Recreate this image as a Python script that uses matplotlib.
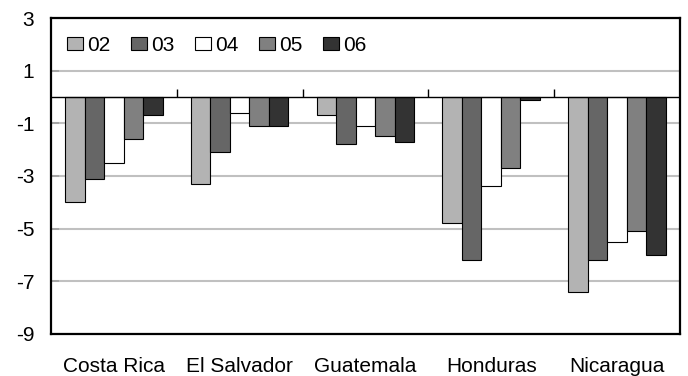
import numpy as np
import matplotlib
matplotlib.use("Agg")
import matplotlib.pyplot as plt

plt.rcParams['font.family'] = ['Liberation Sans', 'DejaVu Sans']

countries = ["Costa Rica", "El Salvador", "Guatemala", "Honduras", "Nicaragua"]
years = ["02", "03", "04", "05", "06"]
v02 = [-4.0, -3.3, -0.7, -4.8, -7.4]
v03 = [-3.1, -2.1, -1.8, -6.2, -6.2]
v04 = [-2.5, -0.6, -1.1, -3.4, -5.5]
v05 = [-1.6, -1.1, -1.5, -2.7, -5.1]
v06 = [-0.7, -1.1, -1.7, -0.1, -6.0]
series = [v02, v03, v04, v05, v06]
colors = ["#b3b3b3", "#666666", "#ffffff", "#808080", "#333333"]
yticks = [-9, -7, -5, -3, -1, 1, 3]

fig = plt.figure(figsize=(6.88, 3.76), dpi=100)
ax = fig.add_axes([0.0741, 0.112, 0.914, 0.840])

x = np.arange(len(countries))
w = 0.155
offsets = (np.arange(len(years)) - 2) * w
for vals, lab, col, off in zip(series, years, colors, offsets):
    ax.bar(x + off, vals, width=w, color=col, edgecolor="black",
           linewidth=0.8, label=lab, zorder=3)

ax.set_xlim(-0.5, len(countries) - 0.5)
ax.set_ylim(-9, 3)
ax.set_yticks(yticks)
ax.set_yticklabels([str(t) for t in yticks], fontsize=15)
ax.yaxis.grid(True, color="#c0c0c0", linewidth=1.5, zorder=0)
ax.tick_params(axis="y", direction="in", length=6, width=1.2,
               color="#a0a0a0", pad=12)

ax.set_xticks(x)
ax.set_xticklabels(countries, fontsize=15)
ax.tick_params(axis="x", length=0, pad=17)

# zero line with category separators above it
ax.axhline(0, color="black", linewidth=1.0, zorder=4)
ax.vlines(np.arange(len(countries) - 1) + 0.5, 0, 0.3, color="black",
          linewidth=1.0, zorder=4)

for s in ax.spines.values():
    s.set_color("black")
    s.set_linewidth(1.6)

ax.legend(loc="upper left", ncol=5, frameon=False, fontsize=15,
          handlelength=0.75, handleheight=0.6, handletextpad=0.2,
          columnspacing=1.0, bbox_to_anchor=(0.003, 0.99), borderaxespad=0.3)

fig.savefig("out.png", dpi=100)
